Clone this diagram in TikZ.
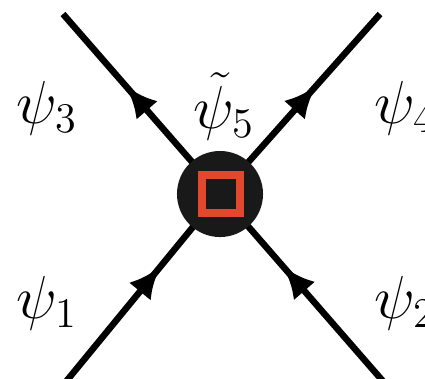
\documentclass[tikz,border=0pt]{standalone}
\usepackage{amsmath,amssymb}
\usetikzlibrary{arrows.meta,positioning,decorations.markings}
\definecolor{boxred}{RGB}{226,72,46}

\begin{document}
\begin{tikzpicture}[x=0.01cm, y=-0.01cm, >=Latex,
  fermion/.style={line width=0.065cm, postaction={decorate}, decoration={markings, mark=at position #1 with {\arrow{Latex[length=0.32cm,width=0.28cm]}}}},
  lbl/.style={font=\fontsize{17}{20}\selectfont}]
\useasboundingbox (0,0) rectangle (425,378);
\coordinate (c) at (220,194);
\coordinate (e1) at (55,395); \coordinate (e2) at (395,395); \coordinate (e3) at (63,14); \coordinate (e4) at (380,14);
\draw[fermion=0.64] (e1) -- (c); \draw[fermion=0.64] (e2) -- (c);
\draw[fermion=0.6] (c) -- (e3); \draw[fermion=0.6] (c) -- (e4);
\node[circle, fill=black!90, minimum size=0.86cm, inner sep=0pt] (v) at (c) {};
\node[draw=boxred, line width=0.08cm, minimum size=0.38cm, inner sep=0pt] (sq) at (221,194) {};
\node[lbl] (l3) at (47,108) {$\psi_3$}; \node[lbl] (l5) at (224,106) {$\tilde\psi_5$}; \node[lbl] (l4) at (405,108) {$\psi_4$};
\node[lbl] (l1) at (47,303) {$\psi_1$}; \node[lbl] (l2) at (405,303) {$\psi_2$};
\end{tikzpicture}
\end{document}
